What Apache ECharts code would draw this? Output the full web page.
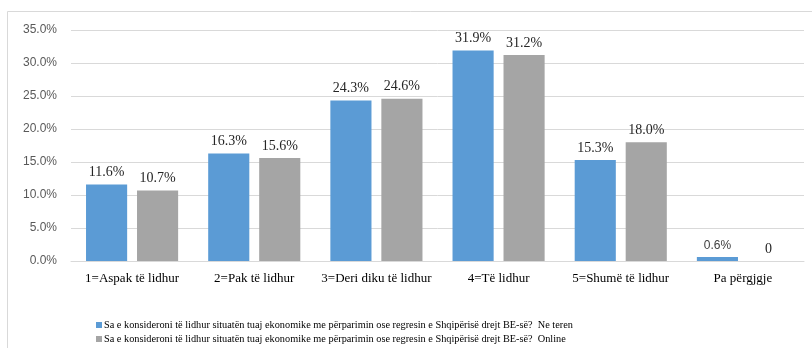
<!DOCTYPE html>
<html>
<head>
<meta charset="utf-8">
<script src="https://cdn.jsdelivr.net/npm/echarts@6/dist/echarts.min.js"></script>
<style>
  html, body { margin: 0; padding: 0; background: #fff; }
  #chart { width: 812px; height: 348px; }
</style>
</head>
<body>
<div id="chart"></div>
<script>
const categories = ['1=Aspak të lidhur', '2=Pak të lidhur', '3=Deri diku të lidhur', '4=Të lidhur', '5=Shumë të lidhur', 'Pa përgjgje'];
const seriesNames = [
  'Sa e konsideroni të lidhur situatën tuaj ekonomike me përparimin ose regresin e Shqipërisë drejt BE-së?  Ne teren',
  'Sa e konsideroni të lidhur situatën tuaj ekonomike me përparimin ose regresin e Shqipërisë drejt BE-së?  Online'
];
const neTeren = [11.6, 16.3, 24.3, 31.9, 15.3, 0.6];
const online = [10.7, 15.6, 24.6, 31.2, 18.0, 0];
const yTicks = { min: 0, max: 35, interval: 5 };

const serif = '"Liberation Serif", "Times New Roman", serif';
const sans = '"Liberation Sans", Arial, sans-serif';

const fmt = v => (v === 0 ? '0' : v.toFixed(1) + '%');

// the small "no answer" value label is set in the sans face
const withLabelFont = (arr) => arr.map((v, i) =>
  i === categories.length - 1 && v > 0
    ? { value: v, label: { fontFamily: sans, fontSize: 12, color: '#404040' } }
    : v);

const legendBase = {
  orient: 'horizontal',
  left: 96,
  itemWidth: 6,
  itemHeight: 6,
  icon: 'rect',
  padding: 0,
  textStyle: { fontFamily: serif, fontSize: 10.3, color: '#000', padding: [0, 0, 0, -3] }
};

const barLabel = {
  show: true, position: 'top', distance: 5,
  fontFamily: serif, fontSize: 14, color: '#262626',
  formatter: p => fmt(p.value)
};

const chart = echarts.init(document.getElementById('chart'));
chart.setOption({
  animation: false,
  backgroundColor: '#fff',
  graphic: [{
    type: 'rect',
    shape: { x: 7.5, y: 11.5, width: 820, height: 360 },
    style: { fill: 'none', stroke: '#d9d9d9', lineWidth: 1 },
    silent: true
  }],
  grid: { left: 71, right: 8, top: 30, bottom: 87, containLabel: false },
  legend: [
    Object.assign({}, legendBase, { top: 320, data: [seriesNames[0]] }),
    Object.assign({}, legendBase, { top: 334, data: [seriesNames[1]] })
  ],
  xAxis: {
    type: 'category',
    data: categories,
    axisLine: { lineStyle: { color: '#d9d9d9' } },
    axisTick: { show: false },
    axisLabel: { fontFamily: serif, fontSize: 13, color: '#000', margin: 11, interval: 0 }
  },
  yAxis: {
    type: 'value',
    min: yTicks.min,
    max: yTicks.max,
    interval: yTicks.interval,
    axisLine: { show: false },
    axisTick: { show: false },
    splitLine: { lineStyle: { color: '#d9d9d9' } },
    axisLabel: { fontFamily: sans, fontSize: 12, color: '#595959', margin: 14, formatter: v => v.toFixed(1) + '%' }
  },
  series: [
    {
      name: seriesNames[0],
      type: 'bar',
      data: withLabelFont(neTeren),
      itemStyle: { color: '#5b9bd5' },
      barGap: '24%',
      barCategoryGap: '24.6%',
      label: barLabel
    },
    {
      name: seriesNames[1],
      type: 'bar',
      data: withLabelFont(online),
      itemStyle: { color: '#a5a5a5' },
      barGap: '24%',
      barCategoryGap: '24.6%',
      label: barLabel
    }
  ]
});
</script>
</body>
</html>
